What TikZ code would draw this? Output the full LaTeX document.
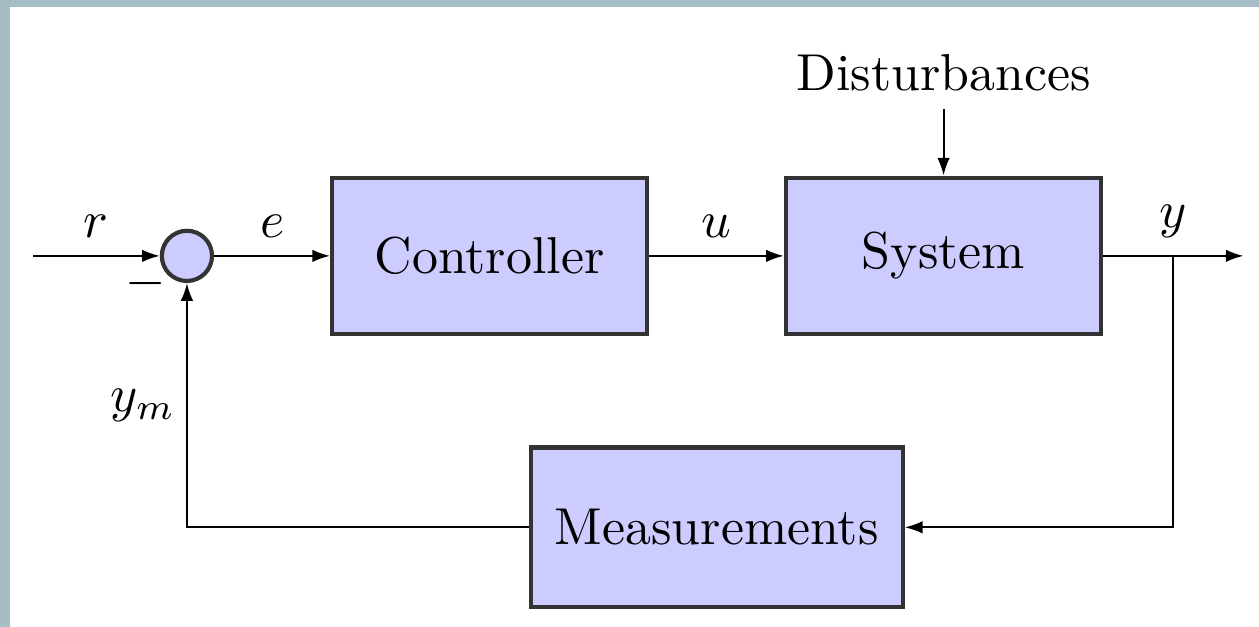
\documentclass[tikz,border=0pt]{standalone}
\usetikzlibrary{positioning,calc,arrows.meta}
\definecolor{framegray}{RGB}{165,190,198}
\begin{document}
\begin{tikzpicture}[node distance={8mm}, >={Latex[length=1.2mm,width=0.85mm]}, block/.style = {draw=black!80, thick, fill=blue!20, rectangle, minimum width=21.35mm, minimum height=10.6mm}, sumnode/.style = {draw=black!80, thick, fill=blue!20, circle, minimum size=3.4mm, inner sep=0pt}]
    \fill[framegray] (-12.66mm,-25.1mm) rectangle (72.6mm,17.33mm);
    \fill[white] (-11.98mm,-25.1mm) rectangle (72.6mm,16.86mm);
    \node[sumnode] (1) at (0,0) {};
    \node[block] (2) [right=7.85mm of 1] {Controller};
    \node[block] (3) [right=9.1mm of 2] {System};
    \node (4) [above=4.5mm of 3] {Disturbances};
    \coordinate (m) at ($(2.south)!0.5!(3.south)$);
    \node[block, minimum width=25.2mm, minimum height=10.8mm] (5) [below=7.4mm of m] {Measurements};
    \node[inner sep=0pt] (6) at ([shift={(-2.8mm,-1.9mm)}]1) {$-$};
    \coordinate[left=8.6mm of 1] (a);
    \coordinate[right=4.7mm of 3] (b);
    \coordinate[right=4.8mm of b] (c);
    \draw[->] (a) -- node[above] {$r$} (1);
    \draw[->] (1) -- node[above] {$e$} (2);
    \draw[->] (2) -- node[above] {$u$} (3);
    \draw[->] (4) -- (3);
    \draw[->] (3) -- (b) node[above] {$y$} -- (c);
    \draw[->] (b) |- (5);
    \draw[->] (5) -| node[pos=0.75, left, inner sep=2pt] {$y_m$} (1);
\end{tikzpicture}
\end{document}
